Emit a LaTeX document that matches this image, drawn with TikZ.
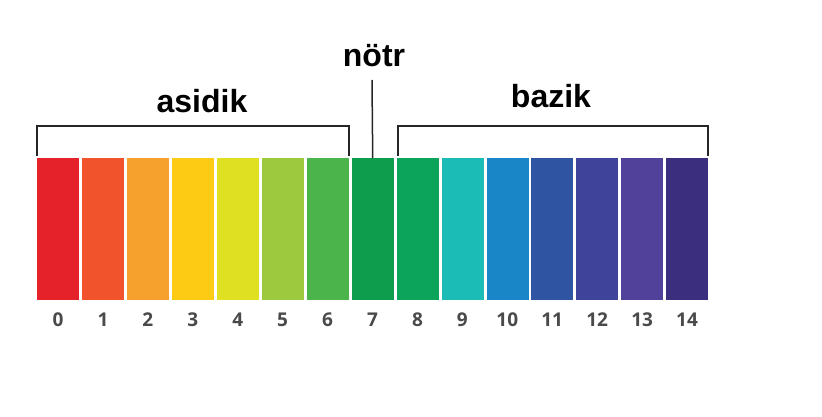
\documentclass[tikz,border=0pt]{standalone}
\usepackage{fontspec}
\setmainfont{Liberation Sans}
\newfontfamily\numfont{Open Sans}
\definecolor{c0}{HTML}{E52229}
\definecolor{c1}{HTML}{F1542D}
\definecolor{c2}{HTML}{F6A02E}
\definecolor{c3}{HTML}{FDCB13}
\definecolor{c4}{HTML}{DFE022}
\definecolor{c5}{HTML}{9DC93F}
\definecolor{c6}{HTML}{4BB44B}
\definecolor{c7}{HTML}{0E9D4C}
\definecolor{c8}{HTML}{0CA45A}
\definecolor{c9}{HTML}{1ABCB5}
\definecolor{c10}{HTML}{1886C7}
\definecolor{c11}{HTML}{2F55A2}
\definecolor{c12}{HTML}{3F449A}
\definecolor{c13}{HTML}{51419A}
\definecolor{c14}{HTML}{3C2E7E}
\definecolor{numgray}{HTML}{4A4A4A}
\tikzset{
  phbar/.style={inner sep=0pt, minimum width=42pt, minimum height=142pt, anchor=north west},
  phnum/.style={text=numgray, font=\numfont\fontsize{19}{19}\selectfont\bfseries, anchor=base, inner sep=0pt},
  title/.style={font=\fontsize{32}{32}\selectfont\bfseries, inner sep=0pt},
  brk/.style={draw=black!85, line width=2pt},
}
\begin{document}
\begin{tikzpicture}[x=1pt,y=-1pt]
\useasboundingbox (0,0) rectangle (822,417);
\fill[white] (0,0) rectangle (822,417);
\foreach \i in {0,...,14}{
  \node[phbar, fill=c\i] (b\i) at ({37+\i*44.93},158) {};
  \node[phnum] (n\i) at ({58+\i*44.93},326) {\i};
}
\node[title, anchor=base] (asidik) at (202,113) {asidik};
\node[title, anchor=base] (notr) at (374,67) {nötr};
\node[title, anchor=base] (bazik) at (551,108) {bazik};
\coordinate (l1) at (37,155);
\coordinate (l2) at (37,126);
\coordinate (l3) at (349,126);
\coordinate (l4) at (349,155);
\coordinate (r1) at (398,155);
\coordinate (r2) at (398,126);
\coordinate (r3) at (708,126);
\coordinate (r4) at (708,155);
\draw[brk, line cap=rect] (l1) -- (l2) -- (l3) -- (l4);
\draw[brk, line cap=rect] (r1) -- (r2) -- (r3) -- (r4);
\coordinate (ntop) at (372,80);
\draw[black!85, line width=1.5pt] (ntop) -- (b7.north);
\end{tikzpicture}
\end{document}
